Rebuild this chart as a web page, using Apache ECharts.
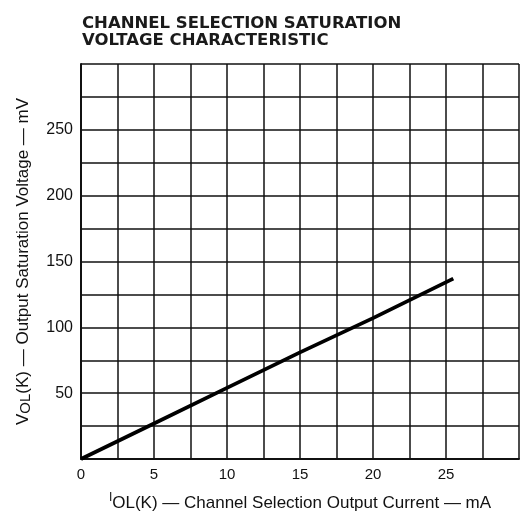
<!DOCTYPE html>
<html><head><meta charset="utf-8">
<script src="https://cdn.jsdelivr.net/npm/echarts@6/dist/echarts.min.js"></script>
<style>html,body{margin:0;padding:0;background:#fff}#c{width:529px;height:517px}</style>
</head><body><div id="c"></div>
<script>
var currentMA = [0, 5, 10, 15, 20, 25.5];
var voltageMV = [0, 27, 54, 81, 107, 137];
var titleLines = ['CHANNEL SELECTION SATURATION', 'VOLTAGE CHARACTERISTIC'];
var xTickLabels = [0, 5, 10, 15, 20, 25];
var yTickLabels = [50, 100, 150, 200, 250];

var chart = echarts.init(document.getElementById('c'));
var pts = currentMA.map(function (x, i) { return [x, voltageMV[i]]; });
chart.setOption({
  animation: false,
  backgroundColor: '#fff',
  title: {
    text: titleLines.join('\n'),
    left: 77, top: 10,
    textStyle: { fontFamily: 'DejaVu Sans', fontWeight: 'bold', fontSize: 16.5, color: '#1a1a1a', lineHeight: 17 }
  },
  grid: { left: 81, right: 10, top: 64, bottom: 55 },
  xAxis: {
    type: 'value', min: 0, max: 30, interval: 2.5,
    axisLine: { show: true, lineStyle: { color: '#111', width: 2 } },
    axisTick: { show: false },
    splitLine: { show: true, lineStyle: { color: '#111', width: 1.5 } },
    axisLabel: {
      margin: 8, color: '#111', fontFamily: 'Liberation Sans', fontSize: 15,
      formatter: function (v) { return xTickLabels.indexOf(v) >= 0 ? String(v) : ''; }
    },
    name: '{sup|I}{n|OL(K) — Channel Selection Output Current — mA}',
    nameLocation: 'middle', nameGap: 32,
    nameTextStyle: {
      color: '#111',
      rich: {
        n: { fontFamily: 'Liberation Sans', fontSize: 17, color: '#111', padding: [4, 0, 0, 0] },
        sup: { fontFamily: 'Liberation Sans', fontSize: 12, color: '#111', padding: [0, 0, 8, 0] }
      }
    }
  },
  yAxis: {
    type: 'value', min: 0, max: 300, interval: 25,
    axisLine: { show: true, lineStyle: { color: '#111', width: 2 } },
    axisTick: { show: false },
    splitLine: { show: true, lineStyle: { color: '#111', width: 1.5 } },
    axisLabel: {
      margin: 8, color: '#111', fontFamily: 'Liberation Sans', fontSize: 16,
      formatter: function (v) { return yTickLabels.indexOf(v) >= 0 ? String(v) : ''; }
    },
    name: '{n|V}{s|OL}{n|(K) — Output Saturation Voltage — mV}',
    nameLocation: 'middle', nameGap: 48, nameRotate: 90,
    nameTextStyle: {
      color: '#111',
      rich: {
        n: { fontFamily: 'Liberation Sans', fontSize: 17, color: '#111' },
        s: { fontFamily: 'Liberation Sans', fontSize: 15, color: '#111', padding: [5, 0, 0, 0] }
      }
    }
  },
  series: [{
    type: 'line', data: pts, symbol: 'none',
    lineStyle: { color: '#000', width: 3.8 }
  }]
});
</script></body></html>
